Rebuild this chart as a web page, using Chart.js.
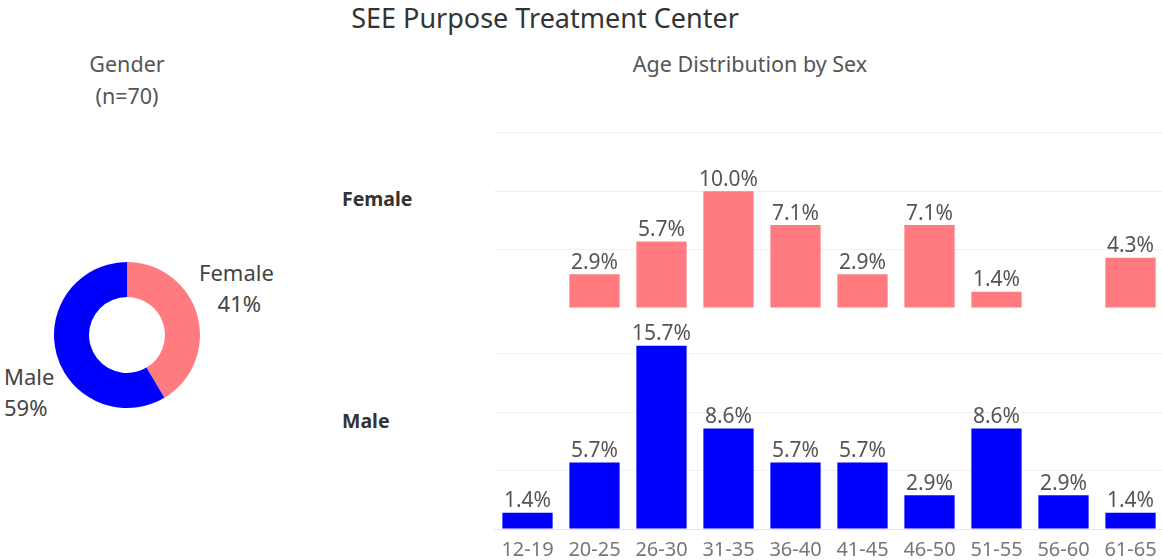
<!DOCTYPE html>
<html>
<head>
<meta charset="utf-8">
<script src="https://cdn.jsdelivr.net/npm/chart.js@4.4.1/dist/chart.umd.min.js"></script>
<style>
  html, body { margin: 0; padding: 0; background: #fff; width: 1162px; height: 560px; overflow: hidden; }
  body { position: relative; font-family: "Noto Sans", "Open Sans", sans-serif; color: #555; }
  .txt { position: absolute; white-space: nowrap; }
  .title { left: 0; width: 1090px; top: -1px; text-align: center; font-size: 27px; color: #333; }
  .sub { font-size: 21.5px; color: #555; text-align: center; line-height: 32px; }
  .row { font-size: 19.5px; font-weight: bold; color: #333; }
  .slice { font-size: 22px; color: #444; line-height: 31px; }
  canvas { position: absolute; }
</style>
</head>
<body>
<div class="txt title">SEE Purpose Treatment Center</div>
<div class="txt sub" style="left:27px; width:200px; top:48px;">Gender<br>(n=70)</div>
<div class="txt sub" style="left:600px; width:300px; top:48px;">Age Distribution by Sex</div>
<div class="txt row" style="left:342px; top:185px;">Female</div>
<div class="txt row" style="left:342px; top:407px;">Male</div>
<div class="txt slice" style="left:199px; top:257px; text-align:center;">Female<br>&nbsp;41%</div>
<div class="txt slice" style="left:4px; top:361px;">Male<br>59%</div>

<div style="position:absolute; left:54px; top:262px; width:146px; height:146px;"><canvas id="genderChart"></canvas></div>
<div style="position:absolute; left:494px; top:92px; width:670px; height:216px;"><canvas id="femaleChart"></canvas></div>
<div style="position:absolute; left:494px; top:313px; width:670px; height:247px;"><canvas id="maleChart"></canvas></div>

<script>
/* ============================================================
   DATA
============================================================ */
const genderLabels = ['Female', 'Male'];
const genderCounts = [29, 41];

const ageGroups   = ['12-19', '20-25', '26-30', '31-35', '36-40', '41-45', '46-50', '51-55', '56-60', '61-65'];
const femalePct   = [null, 2.9, 5.7, 10.0, 7.1, 2.9, 7.1, 1.4, null, 4.3];
const malePct     = [1.4, 5.7, 15.7, 8.6, 5.7, 5.7, 2.9, 8.6, 2.9, 1.4];

const FEMALE_COLOR = '#ff7b80';
const MALE_COLOR   = '#0000ff';
const Y_MAX = 18.5;
const FONT = '"Noto Sans", "Open Sans", sans-serif';

/* ============================================================
   VALUE LABELS PLUGIN
============================================================ */
const valueLabels = {
  id: 'valueLabels',
  afterDatasetsDraw(chart) {
    const ctx = chart.ctx;
    const ds = chart.data.datasets[0];
    chart.getDatasetMeta(0).data.forEach((bar, i) => {
      const v = ds.data[i];
      if (v === null || v === undefined) return;
      ctx.save();
      ctx.font = '21px ' + FONT;
      ctx.fillStyle = '#555';
      ctx.textAlign = 'center';
      ctx.textBaseline = 'bottom';
      ctx.fillText(v.toFixed(1) + '%', bar.x, bar.y - 1);
      ctx.restore();
    });
  }
};

/* ============================================================
   BAR CHARTS
============================================================ */
function barOptions(showX) {
  const x = {
    display: showX,
    grid: { display: false },
    border: { display: false },
    ticks: { color: '#777', font: { size: 20, family: FONT }, padding: 1, maxRotation: 0, autoSkip: false }
  };
  if (showX) x.afterFit = s => { s.height = 31; };
  return {
    responsive: true,
    maintainAspectRatio: false,
    animation: false,
    layout: { padding: 0 },
    plugins: { legend: { display: false }, tooltip: { enabled: false } },
    scales: {
      x,
      y: {
        min: 0,
        max: Y_MAX,
        border: { display: false },
        grid: {
          color: c => c.tick.value % 5 !== 0 ? 'rgba(0,0,0,0)' : (c.tick.value === 0 ? '#e4e4e4' : '#f0f0f0'),
          drawTicks: false,
          lineWidth: 1
        },
        ticks: { display: false, stepSize: 5 },
        afterFit: s => { s.width = 0; }
      }
    }
  };
}

function makeBar(id, data, color, showX) {
  return new Chart(document.getElementById(id), {
    type: 'bar',
    data: {
      labels: ageGroups,
      datasets: [{
        data,
        backgroundColor: color,
        barPercentage: 0.75,
        categoryPercentage: 1.0
      }]
    },
    options: barOptions(showX),
    plugins: [valueLabels]
  });
}

makeBar('femaleChart', femalePct, FEMALE_COLOR, false);
makeBar('maleChart', malePct, MALE_COLOR, true);

/* ============================================================
   GENDER DONUT
============================================================ */
new Chart(document.getElementById('genderChart'), {
  type: 'doughnut',
  data: {
    labels: genderLabels,
    datasets: [{
      data: genderCounts,
      backgroundColor: [FEMALE_COLOR, MALE_COLOR],
      borderWidth: 0
    }]
  },
  options: {
    responsive: true,
    maintainAspectRatio: false,
    animation: false,
    cutout: '52%',
    layout: { padding: 0 },
    plugins: { legend: { display: false }, tooltip: { enabled: false } }
  }
});
</script>
</body>
</html>
